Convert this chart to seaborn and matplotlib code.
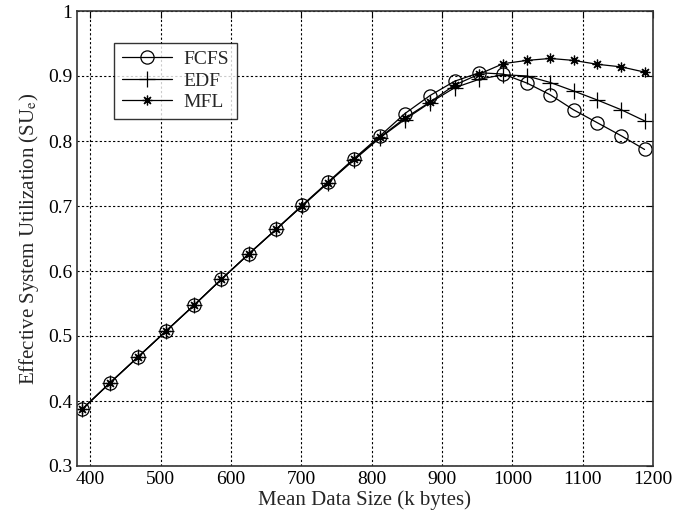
import matplotlib
matplotlib.use("Agg")
import matplotlib.pyplot as plt
import seaborn as sns
import pandas as pd

x_vals = [388, 428, 468, 508, 548, 586, 625, 664, 701, 738, 775, 812,
          847, 883, 918, 953, 987, 1021, 1054, 1087, 1121, 1155, 1188]
fcfs = [0.387, 0.428, 0.468, 0.508, 0.548, 0.587, 0.626, 0.664, 0.701, 0.737, 0.773, 0.808,
        0.842, 0.870, 0.892, 0.905, 0.903, 0.889, 0.871, 0.848, 0.828, 0.808, 0.787]
edf = [0.387, 0.428, 0.468, 0.508, 0.548, 0.587, 0.626, 0.664, 0.700, 0.736, 0.771, 0.805,
       0.833, 0.859, 0.882, 0.895, 0.902, 0.900, 0.890, 0.877, 0.863, 0.848, 0.831]
mfl = [0.387, 0.428, 0.468, 0.508, 0.548, 0.587, 0.626, 0.664, 0.700, 0.736, 0.772, 0.806,
       0.835, 0.860, 0.886, 0.903, 0.919, 0.924, 0.927, 0.924, 0.918, 0.914, 0.906]
series_names = ["FCFS", "EDF", "MFL"]
x_ticks = [400, 500, 600, 700, 800, 900, 1000, 1100, 1200]
y_ticks = [0.3, 0.4, 0.5, 0.6, 0.7, 0.8, 0.9, 1.0]
y_tick_labels = ["0.3", "0.4", "0.5", "0.6", "0.7", "0.8", "0.9", "1"]

sns.set_style("white")
plt.rcParams["font.family"] = ["Liberation Serif", "DejaVu Serif"]
plt.rcParams["mathtext.fontset"] = "stix"

fig = plt.figure(figsize=(6.88, 5.16), dpi=100)
ax = fig.add_axes([77 / 688, 1 - 466 / 516, 576 / 688, 455 / 516])

markers = {"FCFS": "o", "EDF": "+", "MFL": (8, 2, 0)}
msizes = {"FCFS": 9.5, "EDF": 11, "MFL": 7}
data = {"FCFS": fcfs, "EDF": edf, "MFL": mfl}
for name in series_names:
    df = pd.DataFrame({"x": x_vals, "y": data[name]})
    sns.lineplot(data=df, x="x", y="y", ax=ax, color="black", linewidth=0.9,
                 marker=markers[name], markersize=msizes[name],
                 markerfacecolor="none", markeredgecolor="black",
                 markeredgewidth=0.9, label=name, sort=False)

ax.set_xlim(381, 1200)
ax.set_ylim(0.3, 1.0)
ax.set_xticks(x_ticks)
ax.set_xticklabels([str(t) for t in x_ticks])
ax.set_yticks(y_ticks)
ax.set_yticklabels(y_tick_labels)
ax.grid(True, color="black", linestyle=(0, (2, 2)), linewidth=0.8)
ax.tick_params(direction="in", length=5, width=0.8, labelsize=14, colors="black",
               top=True, right=True)
for s in ax.spines.values():
    s.set_color("#333333")
    s.set_linewidth(1.2)
    s.set_visible(True)

ax.set_xlabel("Mean Data Size (k bytes)", fontsize=15, labelpad=2)
ax.set_ylabel(r"Effective System Utilization (SU$_{\mathrm{e}}$)", fontsize=15, labelpad=5)

leg = ax.legend(loc="upper left", bbox_to_anchor=(0.064, 0.930), borderaxespad=0,
                frameon=True, fancybox=False, edgecolor="black", fontsize=14,
                handlelength=2.6, labelspacing=0.2, borderpad=0.4, handletextpad=0.6)
leg.get_frame().set_linewidth(1.0)

fig.savefig("out.png", dpi=100)
